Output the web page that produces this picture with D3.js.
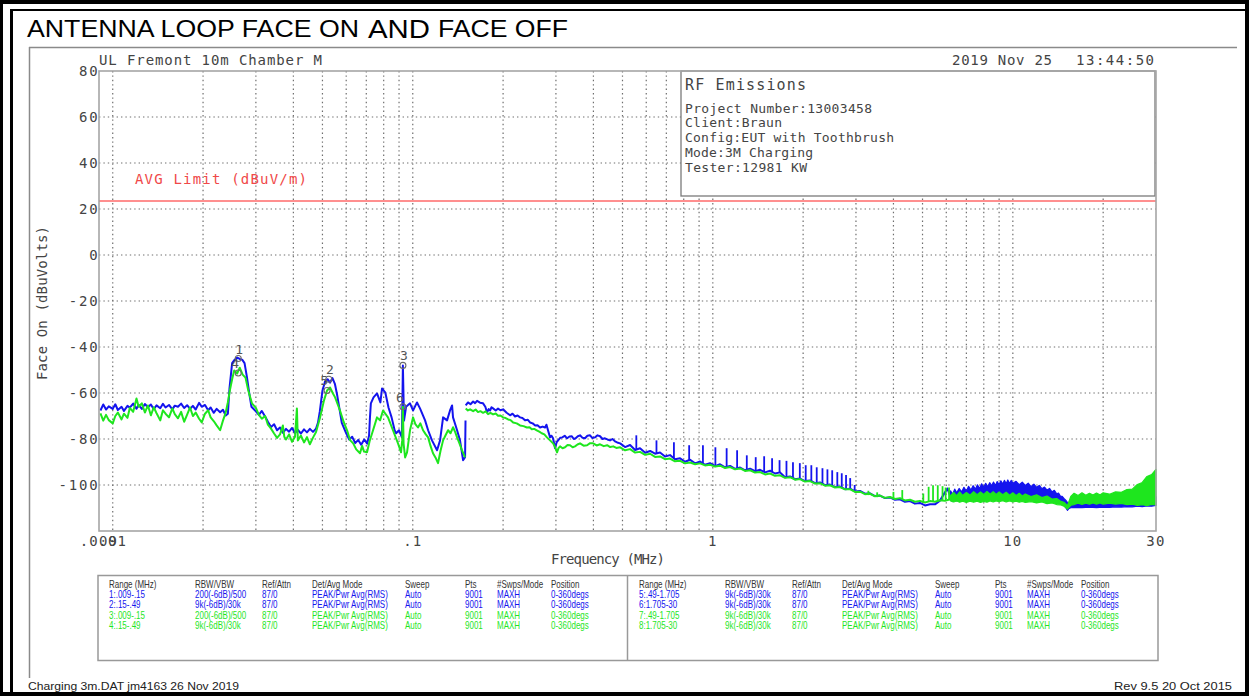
<!DOCTYPE html>
<html>
<head>
<meta charset="utf-8">
<script src="https://cdn.jsdelivr.net/npm/d3@7"></script>
<style>
  html, body { margin: 0; padding: 0; background: #fff; }
  svg { display: block; }
</style>
</head>
<body>
<svg id="chart" width="1249" height="696"></svg>
<script>
// ---------- chart data ----------
const yTickValues = [80, 60, 40, 20, 0, -20, -40, -60, -80, -100];
const xTickLabels = [[0.009, ".009"], [0.01, ".01"], [0.1, ".1"], [1, "1"], [10, "10"], [30, "30"]];
const avgLimit = 23.5;   // dBuV/m

// Face On trace (blue), 0.009-0.15 MHz range: [MHz, dB]
const faceOnLow = [
  [0.0091,-67.6],[0.0093,-65.0],[0.0095,-67.2],[0.0097,-65.8],[0.0100,-66.9],[0.0102,-64.9],[0.0104,-67.4],
  [0.0107,-66.0],[0.0109,-67.8],[0.0112,-65.6],[0.0114,-66.4],[0.0117,-64.6],[0.0120,-66.8],[0.0122,-65.2],
  [0.0125,-66.9],[0.0128,-64.8],[0.0131,-66.2],[0.0134,-65.0],[0.0137,-67.0],[0.0140,-65.4],[0.0144,-66.6],
  [0.0147,-64.7],[0.0150,-66.3],[0.0154,-65.2],[0.0158,-67.1],[0.0161,-65.5],[0.0165,-66.0],[0.0169,-64.6],
  [0.0173,-66.5],[0.0177,-65.3],[0.0181,-66.9],[0.0185,-65.6],[0.0189,-67.2],[0.0194,-64.3],[0.0198,-66.0],
  [0.0203,-65.2],[0.0208,-67.5],[0.0212,-66.3],[0.0217,-68.6],[0.0222,-66.9],[0.0228,-68.4],[0.0233,-67.3],
  [0.0238,-69.8],[0.0242,-69.0],
  [0.0245,-58],[0.0250,-47],[0.0255,-45.5],[0.0260,-44.6],[0.0265,-45.2],[0.0270,-45.5],[0.0275,-47],
  [0.0280,-53],[0.0285,-60],[0.0290,-66],
  [0.0300,-68],[0.0307,-69.5],[0.0314,-67.8],[0.0322,-70.2],[0.0329,-72.5],[0.0337,-74.8],[0.0345,-73.6],
  [0.0353,-76.2],[0.0361,-75.0],[0.0369,-77.3],[0.0378,-75.6],[0.0387,-76.8],[0.0396,-75.2],[0.0405,-77.4],
  [0.0414,-76.0],[0.0424,-77.6],[0.0434,-75.8],[0.0444,-77.1],[0.0454,-75.6],[0.0465,-76.9],[0.0476,-75.5],
  [0.0483,-73],[0.0490,-68],[0.0500,-59],[0.0510,-55],[0.0520,-54],[0.0530,-55.5],[0.0540,-53.5],[0.0550,-56],
  [0.0560,-61],[0.0570,-67],[0.0580,-73],
  [0.0600,-77.5],[0.0614,-80.2],[0.0628,-79.0],[0.0643,-81.8],[0.0658,-80.4],[0.0673,-82.5],[0.0689,-80.2],
  [0.0705,-82.0],[0.0715,-78.5],
  [0.0720,-70.6],[0.0725,-64.5],[0.0740,-61.9],[0.0760,-60.2],[0.0780,-64.1],[0.0790,-58],[0.0810,-59.8],
  [0.0830,-66.3],[0.0850,-70.6],[0.0870,-76.2],[0.0880,-77.5],[0.0900,-76.2],[0.0920,-79.3],[0.0927,-48],
  [0.0935,-72],[0.0950,-66],[0.0979,-64.5],[0.1002,-67.6],[0.1033,-64.1],[0.1057,-66.7],[0.1099,-71.9],
  [0.1125,-76.2],[0.1159,-80.6],[0.1205,-84.9],[0.1233,-80.6],[0.1262,-70.6],[0.1301,-71.9],[0.1331,-67.6],
  [0.1352,-65.4],[0.1362,-70.6],[0.1405,-76.2],[0.1437,-80.6],[0.1471,-89.2],[0.1494,-87.9],[0.1499,-72]
];

// Face On trace (blue), 0.15-6.3 MHz: [MHz, dB]
const faceOnHigh = [
  [0.1501,-65.4],[0.1528,-64.1],[0.1558,-64.9],[0.1589,-63.7],[0.1613,-64.4],[0.1638,-63.4],[0.1675,-64.2],
  [0.1715,-64.5],[0.1745,-66.0],[0.1769,-68.4],[0.1790,-67.0],[0.1810,-67.6],[0.1830,-66.2],[0.1852,-66.7],
  [0.1890,-67.6],[0.1924,-66.8],[0.1960,-67.5],[0.2000,-67.1],[0.2055,-68.6],[0.2110,-69.7],[0.2150,-69.0],
  [0.2192,-70.2],[0.2235,-69.8],[0.2278,-70.6],[0.2320,-70.9],[0.2370,-71.9],[0.2415,-71.6],[0.2459,-72.8],
  [0.2510,-73.2],[0.2560,-74.1],[0.2605,-74.0],[0.2656,-75.0],[0.2710,-74.6],[0.2760,-75.0],[0.2790,-73.8],
  [0.2823,-76.2],[0.2868,-79.3],[0.2900,-78.6],[0.2935,-79.7],[0.2980,-84.0],[0.3015,-81.5],[0.3050,-80.6],
  [0.3100,-79.5],[0.3150,-79.3],[0.3210,-78.6],[0.3268,-79.7],[0.3330,-78.9],[0.3390,-78.8],[0.3440,-80.0],
  [0.3490,-79.7],[0.3550,-78.8],[0.3610,-78.4],[0.3680,-79.5],[0.3750,-79.7],[0.3820,-78.6],[0.3899,-78.4],
  [0.3970,-79.6],[0.4050,-79.3],[0.4130,-78.4],[0.4209,-78.8],[0.4290,-80.0],[0.4370,-79.7],[0.4455,-80.2],
  [0.4545,-80.6],[0.4630,-80.0],[0.4720,-81.0],[0.4800,-81.5],
  [0.491,-81.9],[0.510,-83.5],[0.530,-82.6],[0.551,-84.8],[0.572,-84.0],[0.595,-86.0],[0.618,-85.2],
  [0.642,-86.4],[0.667,-85.9],[0.693,-87.6],[0.720,-87.0],[0.748,-88.8],[0.778,-88.4],[0.808,-89.9],
  [0.840,-89.0],[0.873,-90.6],[0.907,-89.8],[0.942,-91.2],[0.979,-90.5],[1.018,-91.8],[1.057,-91.0],
  [1.099,-92.3],[1.142,-91.7],[1.186,-93.0],[1.233,-92.4],[1.281,-93.6],[1.331,-92.9],[1.383,-94.0],
  [1.437,-93.4],[1.493,-94.5],[1.552,-93.8],[1.612,-95.0],[1.675,-94.5],[1.741,-96.6],[1.809,-96.3],
  [1.880,-97.5],[1.953,-97.2],[2.029,-98.3],[2.109,-98.0],[2.191,-99.2],[2.277,-98.9],[2.366,-100.1],
  [2.458,-99.8],[2.554,-100.9],[2.654,-100.7],[2.758,-101.8],[2.866,-101.6],[2.978,-102.8],[3.094,-102.6],
  [3.215,-103.8],[3.341,-103.6],[3.472,-104.8],[3.607,-104.6],[3.748,-105.7],[3.895,-105.4],[4.047,-106.4],
  [4.205,-106.2],[4.370,-107.3],[4.541,-107.0],[4.718,-108.1],[4.903,-107.8],[5.095,-108.9],[5.294,-108.4],
  [5.501,-108.4],[5.716,-106.8],[5.940,-103.2],[6.05,-101.5],[6.172,-104.5],[6.27,-106.6]
];

// Face On harmonic spikes: [MHz, floor dB, peak dB]
const faceOnSpikes = [
  [0.556,-84.6,-78.4],[0.649,-86.4,-80.6],[0.742,-88.5,-81.4],[0.834,-89.4,-82.7],[0.927,-90.5,-82.7],
  [1.020,-91.5,-83.6],[1.112,-92.1,-84.0],[1.205,-92.8,-84.9],[1.298,-93.4,-87.1],[1.390,-93.8,-87.9],
  [1.483,-94.3,-87.5],[1.576,-94.5,-88.4],[1.669,-94.8,-89.2],[1.76,-96.6,-89.5],[1.85,-97.0,-90.1],
  [1.95,-97.4,-90.5],[2.04,-98.2,-91.4],[2.13,-98.4,-91.4],[2.22,-99.1,-92.3],[2.32,-99.6,-92.7],
  [2.41,-100.0,-93.2],[2.50,-100.4,-93.6],[2.60,-100.8,-94.4],[2.69,-101.0,-94.9],[2.78,-101.8,-95.7],
  [2.87,-101.8,-97.0],[2.97,-102.8,-100.0]
];

// Face On dense noise band above 6 MHz: [MHz, low dB, high dB]
const faceOnBand = [
  [6.2,-106.6,-102.5],[6.3,-107.2,-104.0],[6.4,-106.5,-101.8],[6.5,-106.9,-103.4],[6.62,-106.4,-101.5],
  [6.75,-107.0,-103.0],[6.87,-106.6,-101.0],[7,-106.9,-102.6],[7.12,-106.3,-100.6],[7.25,-106.8,-102.2],
  [7.37,-106.4,-100.3],[7.5,-106.9,-101.8],[7.62,-106.3,-99.9],[7.75,-106.6,-101.5],[7.87,-106.2,-99.5],
  [8,-106.7,-101.0],[8.12,-106.1,-99.3],[8.25,-106.5,-100.8],[8.37,-106.0,-99.0],[8.5,-106.4,-100.3],
  [8.62,-106.0,-98.7],[8.75,-106.5,-100.2],[8.87,-105.9,-98.5],[9,-106.3,-99.8],[9.12,-105.8,-98.2],
  [9.25,-106.3,-99.6],[9.37,-105.9,-98.0],[9.5,-106.2,-99.4],[9.62,-105.8,-97.8],[9.75,-106.3,-99.4],
  [9.87,-105.9,-98.0],[10,-106.2,-99.2],[10.25,-106.0,-98.4],[10.5,-106.4,-99.9],[10.75,-106.1,-98.8],
  [11,-106.5,-100.2],[11.25,-106.2,-99.2],[11.5,-106.6,-100.7],[11.75,-106.3,-99.6],[12,-106.8,-101.0],
  [12.25,-106.5,-100.2],[12.5,-106.9,-101.6],[12.75,-106.6,-100.9],[13,-107.1,-102.2],[13.25,-106.8,-101.5],
  [13.5,-107.3,-103.0],[13.75,-107.0,-102.3],[14,-107.5,-103.8],[14.2,-107.6,-103.5],[14.4,-108.1,-104.8],
  [14.6,-108.3,-104.9],[14.8,-108.9,-105.8],[15.0,-109.8,-106.6],[15.2,-111.0,-107.6],[15.4,-110.2,-107.8],
  [15.6,-109.9,-108.0],[16,-109.7,-108.3],[17,-109.8,-107.5],[18,-109.6,-107.6],[19,-109.8,-107.2],
  [20,-109.6,-106.8],[21,-109.7,-106.5],[22,-109.5,-105.8],[23,-109.6,-105.4],[24,-109.4,-105.1],
  [25,-109.5,-104.9],[26,-109.2,-105.2],[27,-109.4,-104.8],[28,-109.1,-105.0],[29,-109.2,-104.7],
  [30,-108.9,-105.1]
];

// Face Off trace (green), 0.009-0.15 MHz range: [MHz, dB]
const faceOffLow = [
  [0.0091,-68.9],[0.0093,-72.0],[0.0095,-69.5],[0.0097,-71.8],[0.0100,-73.2],[0.0102,-70.0],[0.0104,-68.5],
  [0.0107,-71.5],[0.0109,-69.0],[0.0112,-70.8],[0.0114,-66.5],[0.0117,-68.2],[0.0120,-62.4],[0.0122,-66.0],
  [0.0125,-64.5],[0.0128,-68.5],[0.0131,-65.4],[0.0134,-69.7],[0.0137,-66.2],[0.0140,-68.8],[0.0144,-71.9],
  [0.0147,-67.5],[0.0150,-69.0],[0.0154,-70.6],[0.0158,-66.7],[0.0161,-69.2],[0.0165,-71.0],[0.0169,-68.2],
  [0.0173,-72.5],[0.0177,-69.4],[0.0181,-66.3],[0.0185,-70.0],[0.0189,-68.5],[0.0194,-71.2],[0.0198,-72.8],
  [0.0203,-69.0],[0.0208,-67.5],[0.0212,-70.6],[0.0217,-72.2],[0.0222,-74.1],[0.0228,-76.2],[0.0233,-72.0],
  [0.0238,-68.5],[0.0242,-64.0],
  [0.0246,-58.5],[0.0250,-54],[0.0254,-50.2],[0.0260,-51.5],[0.0265,-49],[0.0271,-52],[0.0277,-53.3],
  [0.0283,-58.9],[0.0291,-64.5],
  [0.0300,-66.5],[0.0307,-69.5],[0.0314,-71.2],[0.0322,-70.0],[0.0329,-73.8],[0.0337,-75.5],[0.0345,-77.6],
  [0.0353,-79.5],[0.0361,-78.0],[0.0369,-74.1],[0.0373,-79.0],[0.0378,-80.2],[0.0387,-78.0],[0.0396,-81.2],
  [0.0405,-79.0],[0.0411,-66.7],[0.0414,-80.6],[0.0424,-78.5],[0.0434,-81.5],[0.0444,-79.2],[0.0454,-82.3],
  [0.0465,-79.4],[0.0476,-77.0],
  [0.0491,-70.6],[0.0506,-63.2],[0.0518,-58.9],[0.0530,-57.6],[0.0542,-60.2],[0.0551,-61.9],[0.0572,-67.6],
  [0.0588,-72.5],
  [0.0604,-76.2],[0.0618,-80.5],[0.0633,-81.9],[0.0648,-84.5],[0.0667,-86.2],[0.0678,-83.0],[0.0688,-85.5],
  [0.0704,-85.8],[0.0718,-81.0],[0.0732,-77.5],
  [0.0760,-70.6],[0.0778,-71.9],[0.0796,-67.6],[0.0827,-70.6],[0.0859,-76.2],[0.0893,-81.9],[0.0914,-85.8],
  [0.0922,-80.6],[0.0927,-66],[0.0932,-82],[0.0943,-88.0],[0.0957,-85.8],[0.0979,-76.2],[0.1002,-70.6],
  [0.1020,-73.5],[0.1041,-75.0],[0.1060,-73.2],[0.1082,-76.2],[0.1105,-78.0],[0.1125,-79.3],[0.1146,-83.0],
  [0.1168,-86.2],[0.1190,-88.0],[0.1214,-90.5],[0.1238,-85.0],[0.1262,-80.6],[0.1285,-78.5],[0.1311,-76.2],
  [0.1336,-77.5],[0.1362,-74.9],[0.1385,-77.0],[0.1405,-79.3],[0.1432,-82.0],[0.1460,-85.0],[0.1494,-88.0]
];

// Face Off trace (green), 0.15-6.2 MHz: [MHz, dB]
const faceOffHigh = [
  [0.1501,-66.7],[0.1527,-67.6],[0.1553,-67.1],[0.1589,-67.9],[0.1620,-67.2],[0.1650,-68.3],[0.1680,-67.9],
  [0.1715,-68.6],[0.1750,-68.0],[0.1782,-69.2],[0.1815,-68.6],[0.1852,-69.3],[0.1890,-68.9],[0.1924,-69.9],
  [0.1960,-69.8],[0.2000,-70.6],[0.2040,-70.9],[0.2079,-71.5],[0.2120,-71.8],[0.2161,-72.8],[0.2220,-73.2],
  [0.2278,-74.1],[0.2340,-74.4],[0.2401,-75.0],[0.2450,-74.9],[0.2493,-75.8],[0.2540,-75.6],[0.2589,-76.2],
  [0.2640,-76.8],[0.2690,-77.5],[0.2745,-78.0],[0.2800,-79.3],[0.2868,-80.6],[0.2935,-81.9],[0.2980,-83.4],
  [0.3026,-85.8],[0.3060,-84.0],[0.3097,-83.2],[0.3157,-84.0],[0.3217,-83.6],[0.3280,-82.6],[0.3343,-82.7],
  [0.3410,-83.6],[0.3473,-83.2],[0.3540,-82.4],[0.3610,-81.9],[0.3710,-82.9],[0.3811,-82.7],[0.3900,-81.8],
  [0.3993,-81.9],[0.4100,-82.8],[0.4209,-82.3],[0.4330,-83.1],[0.4444,-82.7],[0.4550,-83.5],[0.4656,-83.2],
  [0.4770,-83.9],
  [0.491,-83.6],[0.510,-84.9],[0.530,-84.4],[0.551,-85.9],[0.572,-85.6],[0.595,-86.9],[0.618,-86.4],
  [0.642,-87.8],[0.667,-87.6],[0.693,-88.8],[0.720,-88.5],[0.748,-89.7],[0.778,-89.5],[0.808,-90.6],
  [0.840,-90.2],[0.873,-91.0],[0.907,-90.6],[0.942,-91.5],[0.979,-91.2],[1.018,-92.0],[1.057,-91.6],
  [1.099,-92.6],[1.142,-92.2],[1.186,-93.2],[1.233,-92.8],[1.281,-93.9],[1.331,-93.6],[1.383,-94.6],
  [1.437,-94.4],[1.493,-95.4],[1.552,-95.0],[1.612,-96.0],[1.675,-95.8],[1.741,-96.9],[1.809,-96.6],
  [1.880,-97.7],[1.953,-97.4],[2.029,-98.5],[2.109,-98.3],[2.191,-99.4],[2.277,-99.2],[2.366,-100.3],
  [2.458,-100.1],[2.554,-101.1],[2.654,-100.9],[2.758,-101.9],[2.866,-101.8],[2.978,-103.0],[3.094,-102.9],
  [3.215,-104.0],[3.341,-103.8],[3.472,-104.9],[3.607,-104.6],[3.748,-105.6],[3.895,-105.2],[4.047,-106.1],
  [4.205,-105.7],[4.370,-106.7],[4.541,-106.4],[4.718,-107.3],[4.903,-106.9],[5.095,-107.6],[5.294,-107.0],
  [5.501,-107.3],[5.716,-106.6],[5.940,-106.9],[6.172,-106.2]
];

// Face Off spikes: [MHz, floor dB, peak dB]
const faceOffSpikes = [
  [3.3,-104.4,-102.5],[3.53,-105.3,-103.2],[4.0,-105.7,-103.0],[4.28,-106.1,-102.2],[5.03,-107.2,-103.7],
  [5.24,-107.3,-100.8],[5.42,-107.0,-100.1],[5.62,-106.8,-100.1],[5.83,-106.6,-100.5],[5.97,-106.6,-101.1],
  [6.13,-106.6,-101.1]
];

// Face Off dense noise band above 6 MHz: [MHz, low dB, high dB]
const faceOffBand = [
  [6.2,-106.9,-104.5],[6.35,-107.4,-103.2],[6.5,-106.9,-104.6],[6.65,-107.5,-103.0],[6.8,-107.0,-104.5],
  [7,-107.6,-103.2],[7.2,-107.0,-104.4],[7.4,-107.5,-102.9],[7.6,-107.0,-104.2],[7.8,-107.6,-103.0],
  [8,-107.1,-104.1],[8.2,-107.5,-102.8],[8.4,-106.9,-104.0],[8.6,-107.4,-102.9],[8.8,-106.9,-104.1],
  [9,-107.3,-103.0],[9.25,-106.8,-104.2],[9.5,-107.4,-103.1],[9.75,-106.9,-104.4],[10,-107.4,-103.4],
  [10.25,-107.0,-104.6],[10.5,-107.5,-103.6],[10.75,-107.1,-104.8],[11,-107.6,-103.9],[11.5,-107.2,-105.0],
  [12,-107.8,-104.3],[12.5,-107.4,-105.5],[13,-108.1,-104.8],[13.5,-107.8,-106.1],[14,-108.5,-105.9],
  [14.4,-108.6,-107],[14.8,-109.2,-107.5],[15.2,-110.5,-109],[15.6,-108.8,-105],[16,-108.5,-103.6],
  [16.5,-107.9,-104.6],[17,-108.4,-103.4],[17.5,-107.9,-104.5],[18,-108.3,-103.6],[18.5,-107.8,-104.4],
  [19,-108.3,-103.5],[19.5,-107.8,-104.3],[20,-108.3,-103.4],[21,-107.9,-104.0],[22,-108.3,-103.0],
  [23,-108.0,-103.2],[24,-108.5,-102.0],[25,-108.3,-101.8],[26,-108.9,-99.8],[27,-108.5,-98.9],
  [28,-109.0,-96.3],[29,-108.4,-95.5],[30,-108.6,-93.2]
];

// Peak markers: label, MHz, dB
const markerIds    = ["1", "4", "2", "5", "3", "6"];
const markerFreqs  = [0.0262, 0.0262, 0.0525, 0.0518, 0.0927, 0.0927];
const markerLevels = [-45.0, -51.3, -54.0, -58.9, -48.0, -66.0];

// Scan settings table
const tableHeader = ["Range (MHz)", "RBW/VBW", "Ref/Attn", "Det/Avg Mode", "Sweep", "Pts", "#Swps/Mode", "Position"];
const scanRowsLeft = [
  ["1:.009-.15", "200(-6dB)/500", "87/0", "PEAK/Pwr Avg(RMS)", "Auto", "9001", "MAXH", "0-360degs"],
  ["2:.15-.49",  "9k(-6dB)/30k",  "87/0", "PEAK/Pwr Avg(RMS)", "Auto", "9001", "MAXH", "0-360degs"],
  ["3:.009-.15", "200(-6dB)/500", "87/0", "PEAK/Pwr Avg(RMS)", "Auto", "9001", "MAXH", "0-360degs"],
  ["4:.15-.49",  "9k(-6dB)/30k",  "87/0", "PEAK/Pwr Avg(RMS)", "Auto", "9001", "MAXH", "0-360degs"]
];
const scanRowsRight = [
  ["5:.49-1.705", "9k(-6dB)/30k", "87/0", "PEAK/Pwr Avg(RMS)", "Auto", "9001", "MAXH", "0-360degs"],
  ["6:1.705-30",  "9k(-6dB)/30k", "87/0", "PEAK/Pwr Avg(RMS)", "Auto", "9001", "MAXH", "0-360degs"],
  ["7:.49-1.705", "9k(-6dB)/30k", "87/0", "PEAK/Pwr Avg(RMS)", "Auto", "9001", "MAXH", "0-360degs"],
  ["8:1.705-30",  "9k(-6dB)/30k", "87/0", "PEAK/Pwr Avg(RMS)", "Auto", "9001", "MAXH", "0-360degs"]
];
const infoLines = ["Project Number:13003458", "Client:Braun", "Config:EUT with Toothbrush", "Mode:3M Charging", "Tester:12981 KW"];

// ---------- drawing ----------
const MONO = "'DejaVu Sans Mono', monospace";
const SANS = "'Liberation Sans', Arial, sans-serif";
const BLUE = "#1414ee", GREEN = "#1ee61e", INK = "#444", FRAME = "#a6a6a6";

const svg = d3.select("#chart");
const x = d3.scaleLog().domain([0.009, 30]).range([99, 1156]);
const y = d3.scaleLinear().domain([-120, 80]).range([531, 71]);

svg.append("rect").attr("width", 1249).attr("height", 696).attr("fill", "#fff");

// document frame
const blk = svg.append("g").attr("fill", "#000");
blk.append("rect").attr("x", 0).attr("y", 0).attr("width", 1249).attr("height", 4);
blk.append("rect").attr("x", 0).attr("y", 0).attr("width", 3).attr("height", 696);
blk.append("rect").attr("x", 1245).attr("y", 0).attr("width", 4).attr("height", 696);
blk.append("rect").attr("x", 0).attr("y", 692).attr("width", 1249).attr("height", 4);
blk.append("rect").attr("x", 10).attr("y", 9).attr("width", 1235).attr("height", 2);
blk.append("rect").attr("x", 10).attr("y", 9).attr("width", 3).attr("height", 687);

// page title
const title = svg.append("g").attr("font-family", SANS).attr("fill", "#000");
title.append("text").attr("x", 27).attr("y", 37).attr("font-size", 23)
  .attr("textLength", 332).attr("lengthAdjust", "spacingAndGlyphs").text("ANTENNA LOOP FACE ON");
title.append("text").attr("x", 368).attr("y", 38).attr("font-size", 26)
  .attr("textLength", 62).attr("lengthAdjust", "spacingAndGlyphs").text("AND");
title.append("text").attr("x", 438).attr("y", 37).attr("font-size", 23)
  .attr("textLength", 130).attr("lengthAdjust", "spacingAndGlyphs").text("FACE OFF");

// instrument panel border
svg.append("line").attr("x1", 29).attr("x2", 1237).attr("y1", 47.5).attr("y2", 47.5)
  .attr("stroke", "#8a8a8a").attr("stroke-width", 1.5);
svg.append("line").attr("x1", 29.5).attr("x2", 29.5).attr("y1", 47).attr("y2", 678)
  .attr("stroke", "#8a8a8a").attr("stroke-width", 1.5);

// dotted grid
const grid = svg.append("g").attr("stroke", "#6e6e6e").attr("stroke-width", 1.2)
  .attr("stroke-dasharray", "1.4,3");
const gridFreqs = x.ticks().filter(f => f > 0.009 && f < 30);
grid.selectAll("line.v").data(gridFreqs).join("line").attr("class", "v")
  .attr("x1", d => x(d)).attr("x2", d => x(d)).attr("y1", y(80)).attr("y2", y(-120));
grid.selectAll("line.h").data(yTickValues.filter(v => v < 80)).join("line").attr("class", "h")
  .attr("x1", x(0.009)).attr("x2", x(30)).attr("y1", d => y(d)).attr("y2", d => y(d));

// limit line and caption
svg.append("line").attr("x1", x(0.009)).attr("x2", x(30)).attr("y1", y(avgLimit)).attr("y2", y(avgLimit))
  .attr("stroke", "#ff8f8f").attr("stroke-width", 2);
svg.append("text").attr("x", 135).attr("y", 184).attr("font-family", MONO).attr("font-size", 14)
  .attr("fill", "#f04848").attr("textLength", 172).attr("lengthAdjust", "spacing")
  .text("AVG Limit (dBuV/m)");

// info box
svg.append("rect").attr("x", 681).attr("y", 71).attr("width", 474).attr("height", 125)
  .attr("fill", "#fff").attr("stroke", "#7a7a7a").attr("stroke-width", 1.3);
svg.append("text").attr("x", 685).attr("y", 90).attr("font-family", MONO).attr("font-size", 15)
  .attr("fill", INK).attr("textLength", 121).attr("lengthAdjust", "spacing").text("RF Emissions");
const infoWidths = [187, 97, 209, 128, 122];
svg.selectAll("text.info").data(infoLines).join("text").attr("class", "info")
  .attr("x", 685).attr("y", (d, i) => 112.5 + i * 14.8)
  .attr("font-family", MONO).attr("font-size", 13).attr("fill", INK)
  .attr("textLength", (d, i) => infoWidths[i]).attr("lengthAdjust", "spacing").text(d => d);

// traces
const line = d3.line().x(d => x(d[0])).y(d => y(d[1]));
const band = d3.area().x(d => x(d[0])).y0(d => y(d[1])).y1(d => y(d[2]));

function drawTrace(low, high, spikes, bandData, color) {
  const g = svg.append("g");
  [low, high].forEach(seg => {
    g.append("path").attr("d", line(seg)).attr("fill", "none").attr("stroke", color)
      .attr("stroke-width", 2).attr("stroke-linejoin", "round");
  });
  g.selectAll("line").data(spikes).join("line")
    .attr("x1", d => x(d[0])).attr("x2", d => x(d[0]))
    .attr("y1", d => y(d[1])).attr("y2", d => y(d[2]))
    .attr("stroke", color).attr("stroke-width", 1.8);
  g.append("path").attr("d", band(bandData)).attr("fill", color).attr("stroke", color)
    .attr("stroke-width", 1.2).attr("stroke-linejoin", "round");
}
drawTrace(faceOnLow, faceOnHigh, faceOnSpikes, faceOnBand, BLUE);
drawTrace(faceOffLow, faceOffHigh, faceOffSpikes, faceOffBand, GREEN);

// markers
const mk = svg.append("g");
markerIds.forEach((id, i) => {
  const cx = x(markerFreqs[i]), cy = y(markerLevels[i]);
  const dx = i % 2 === 1 ? -3 : 1;
  mk.append("circle").attr("cx", cx).attr("cy", cy).attr("r", 3)
    .attr("fill", "none").attr("stroke", "#6a6a6a").attr("stroke-width", 1.1);
  mk.append("text").attr("x", cx + dx).attr("y", cy - 5).attr("text-anchor", "middle")
    .attr("font-family", MONO).attr("font-size", 13).attr("fill", "#555").text(id);
});

// plot frame
svg.append("rect").attr("x", x(0.009)).attr("y", y(80)).attr("width", x(30) - x(0.009))
  .attr("height", y(-120) - y(80)).attr("fill", "none").attr("stroke", FRAME).attr("stroke-width", 1.6);

// y tick labels
svg.selectAll("text.ytick").data(yTickValues).join("text").attr("class", "ytick")
  .attr("x", 99.5).attr("y", d => y(d) + 5).attr("text-anchor", "end")
  .attr("font-family", MONO).attr("font-size", 14).attr("letter-spacing", 1.8)
  .attr("fill", INK).text(d => d);

// x tick labels
svg.selectAll("text.xtick").data(xTickLabels).join("text").attr("class", "xtick")
  .attr("x", d => x(d[0])).attr("y", 546).attr("text-anchor", "middle")
  .attr("font-family", MONO).attr("font-size", 14).attr("letter-spacing", 1.2)
  .attr("fill", INK).text(d => d[1]);

// axis titles
svg.append("text").attr("x", 551).attr("y", 564).attr("font-family", MONO).attr("font-size", 14)
  .attr("fill", INK).attr("textLength", 114).attr("lengthAdjust", "spacing").text("Frequency (MHz)");
svg.append("text").attr("transform", "translate(47,380) rotate(-90)")
  .attr("font-family", MONO).attr("font-size", 14).attr("fill", INK)
  .attr("textLength", 154).attr("lengthAdjust", "spacing").text("Face On (dBuVolts)");

// header texts above the plot
svg.append("text").attr("x", 99).attr("y", 65).attr("font-family", MONO).attr("font-size", 14)
  .attr("fill", INK).attr("textLength", 223).attr("lengthAdjust", "spacing").text("UL Fremont 10m Chamber M");
svg.append("text").attr("x", 952).attr("y", 65).attr("font-family", MONO).attr("font-size", 14)
  .attr("fill", INK).attr("textLength", 100).attr("lengthAdjust", "spacing").text("2019 Nov 25");
svg.append("text").attr("x", 1076).attr("y", 65).attr("font-family", MONO).attr("font-size", 14)
  .attr("fill", INK).attr("textLength", 78).attr("lengthAdjust", "spacing").text("13:44:50");

// scan settings table
const tbl = svg.append("g");
tbl.append("rect").attr("x", 98).attr("y", 575.5).attr("width", 1060).attr("height", 85)
  .attr("fill", "none").attr("stroke", "#999").attr("stroke-width", 1.5);
tbl.append("line").attr("x1", 627.5).attr("x2", 627.5).attr("y1", 575.5).attr("y2", 660.5)
  .attr("stroke", "#999").attr("stroke-width", 1.5);
const colOffsets = [0, 86, 153, 203, 296, 356, 388, 442];
const rowColors = [BLUE, BLUE, GREEN, GREEN];
function drawTable(x0, rows) {
  const cell = (txt, cx, cy, color) => tbl.append("text")
    .attr("transform", `translate(${cx},${cy}) scale(0.8,1)`)
    .attr("font-family", SANS).attr("font-size", 10).attr("fill", color).text(txt);
  tableHeader.forEach((h, c) => cell(h, x0 + colOffsets[c], 588, "#333"));
  rows.forEach((r, ri) => r.forEach((v, c) => cell(v, x0 + colOffsets[c], 598 + ri * 10.3, rowColors[ri])));
}
drawTable(109, scanRowsLeft);
drawTable(639, scanRowsRight);

// footer
svg.append("text").attr("x", 28).attr("y", 690).attr("font-family", SANS).attr("font-size", 10)
  .attr("fill", "#222").attr("textLength", 211).attr("lengthAdjust", "spacingAndGlyphs")
  .text("Charging 3m.DAT jm4163 26 Nov 2019");
svg.append("text").attr("x", 1114).attr("y", 690).attr("font-family", SANS).attr("font-size", 10)
  .attr("fill", "#222").attr("textLength", 118).attr("lengthAdjust", "spacingAndGlyphs")
  .text("Rev 9.5 20 Oct 2015");
</script>
</body>
</html>
